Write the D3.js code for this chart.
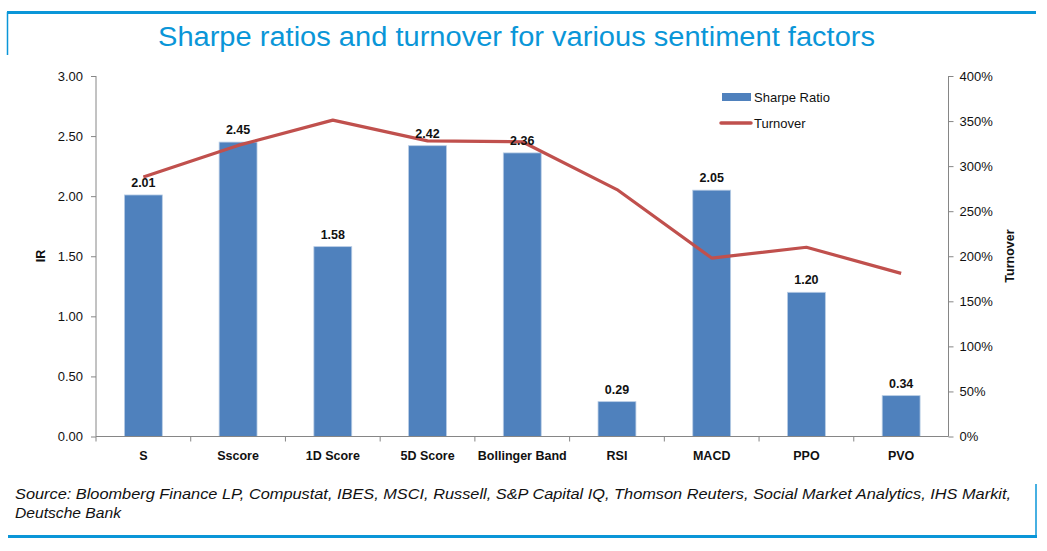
<!DOCTYPE html>
<html><head><meta charset="utf-8">
<script src="https://cdn.jsdelivr.net/npm/d3@7"></script>
<style>body{margin:0;background:#fff;} svg{display:block;}</style>
</head><body>
<svg id="c" width="1047" height="551"></svg>
<script>
const categories = ["S","Sscore","1D Score","5D Score","Bollinger Band","RSI","MACD","PPO","PVO"];
const sharpe = [2.01,2.45,1.58,2.42,2.36,0.29,2.05,1.20,0.34];
const turnover = [2.88,3.23,3.51,3.28,3.27,2.74,1.98,2.10,1.81];
const leftTicks = [0,0.5,1,1.5,2,2.5,3];
const rightTicks = [0,0.5,1,1.5,2,2.5,3,3.5,4];

const svg = d3.select("#c");
const blue = "#0a96d8";
const tickFont = "'Liberation Sans', Arial, sans-serif";
const narrow = "'Liberation Sans Narrow', 'Arial Narrow', 'Liberation Sans', sans-serif";

// frame
svg.append("line").attr("x1",7).attr("x2",1036).attr("y1",12.5).attr("y2",12.5).attr("stroke",blue).attr("stroke-width",3);
svg.append("line").attr("x1",7.5).attr("x2",7.5).attr("y1",12).attr("y2",55).attr("stroke",blue).attr("stroke-width",1.5);
svg.append("line").attr("x1",8).attr("x2",1037).attr("y1",536.5).attr("y2",536.5).attr("stroke",blue).attr("stroke-width",3);
svg.append("line").attr("x1",1036).attr("x2",1036).attr("y1",484).attr("y2",537).attr("stroke",blue).attr("stroke-width",1.5);

svg.append("text").attr("x",158).attr("y",46)
  .attr("font-family",narrow).attr("font-size",27).attr("fill",blue)
  .attr("textLength",717).attr("lengthAdjust","spacingAndGlyphs")
  .text("Sharpe ratios and turnover for various sentiment factors");

const x0 = 96, x1 = 948.5, yTop = 76, yBot = 436.5;
const x = d3.scaleBand().domain(categories).range([x0,x1]).paddingInner(0.6).paddingOuter(0.3);
const xb = d3.scaleBand().domain(categories).range([x0,x1]);
const yL = d3.scaleLinear().domain([0,3]).range([yBot,yTop]);
const yR = d3.scaleLinear().domain([0,4]).range([yBot,yTop]);

// bars
svg.append("g").selectAll("rect").data(categories).join("rect")
  .attr("x",d=>x(d)).attr("width",x.bandwidth())
  .attr("y",(d,i)=>yL(sharpe[i])).attr("height",(d,i)=>yBot-yL(sharpe[i]))
  .attr("fill","#4f81bd").attr("stroke","#b9cde5").attr("stroke-width",0.8);

// axes
const axL = svg.append("g").attr("transform",`translate(${x0},0)`)
  .call(d3.axisLeft(yL).tickValues(leftTicks).tickFormat(d3.format(".2f")).tickSize(5).tickPadding(8));
const axR = svg.append("g").attr("transform",`translate(${x1},0)`)
  .call(d3.axisRight(yR).tickValues(rightTicks).tickFormat(d3.format(".0%")).tickSize(5).tickPadding(6));
[axL,axR].forEach(a=>{
  a.selectAll("path,line").attr("stroke","#868686");
  a.selectAll("text").attr("font-family",tickFont).attr("font-size",13).attr("fill","#111");
});
axL.select(".domain").attr("d",`M0,${yTop}V${yBot}`);
axR.select(".domain").attr("d",`M0,${yTop}V${yBot}`);

const axB = svg.append("g").attr("transform",`translate(0,${yBot})`)
  .call(d3.axisBottom(xb).tickSize(0).tickPadding(15));
axB.select(".domain").attr("d",`M${x0},0H${x1}`).attr("stroke","#868686");
axB.selectAll("text").attr("font-family",tickFont).attr("font-size",12.5).attr("font-weight","bold").attr("fill","#111");
// category separators
svg.append("g").selectAll("line").data(categories.slice(1)).join("line")
  .attr("x1",d=>xb(d)).attr("x2",d=>xb(d)).attr("y1",yBot).attr("y2",yBot+5).attr("stroke","#868686");
svg.append("line").attr("x1",x0).attr("x2",x0).attr("y1",yBot).attr("y2",yBot+5).attr("stroke","#868686");

// turnover line
const line = d3.line().x((d,i)=>xb(categories[i])+xb.bandwidth()/2).y(d=>yR(d));
svg.append("path").datum(turnover).attr("d",line).attr("fill","none")
  .attr("stroke","#c0504d").attr("stroke-width",3.2).attr("stroke-linejoin","round");

// data labels
svg.append("g").selectAll("text").data(categories).join("text")
  .attr("x",d=>x(d)+x.bandwidth()/2).attr("y",(d,i)=>yL(sharpe[i])-8)
  .attr("text-anchor","middle").attr("font-family",tickFont).attr("font-size",12.5).attr("font-weight","bold").attr("fill","#111")
  .text((d,i)=>d3.format(".2f")(sharpe[i]));

// axis titles
svg.append("text").attr("transform","translate(45,256) rotate(-90)").attr("text-anchor","middle")
  .attr("font-family",tickFont).attr("font-size",12.5).attr("font-weight","bold").attr("fill","#111").text("IR");
svg.append("text").attr("transform","translate(1014,256) rotate(-90)").attr("text-anchor","middle")
  .attr("font-family",tickFont).attr("font-size",12.5).attr("font-weight","bold").attr("fill","#111").text("Turnover");

// legend
svg.append("rect").attr("x",722).attr("y",93).attr("width",29).attr("height",8).attr("fill","#4f81bd");
svg.append("text").attr("x",754).attr("y",102).attr("font-family",tickFont).attr("font-size",13).attr("fill","#111").text("Sharpe Ratio");
svg.append("line").attr("x1",721).attr("x2",751).attr("y1",123).attr("y2",123).attr("stroke","#c0504d").attr("stroke-width",3.5).attr("stroke-linecap","round");
svg.append("text").attr("x",754).attr("y",128).attr("font-family",tickFont).attr("font-size",13).attr("fill","#111").text("Turnover");

// source
const src = svg.append("text").attr("font-family",narrow).attr("font-size",15).attr("font-style","italic").attr("fill","#111");
src.append("tspan").attr("x",15).attr("y",499).attr("textLength",996).attr("lengthAdjust","spacingAndGlyphs")
  .text("Source: Bloomberg Finance LP, Compustat, IBES, MSCI, Russell, S&P Capital IQ, Thomson Reuters, Social Market Analytics, IHS Markit,");
src.append("tspan").attr("x",15).attr("y",518).attr("textLength",106).attr("lengthAdjust","spacingAndGlyphs").text("Deutsche Bank");
</script>
</body></html>
